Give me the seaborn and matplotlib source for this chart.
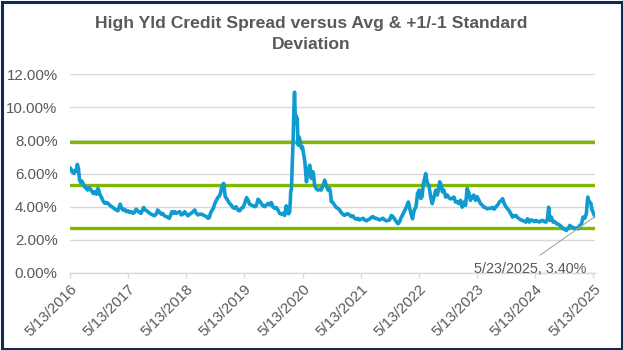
import matplotlib
matplotlib.use("Agg")
import matplotlib.pyplot as plt
from matplotlib.patches import Rectangle
from matplotlib.ticker import PercentFormatter
import pandas as pd
import seaborn as sns

# ---- data -------------------------------------------------------------
spread_dates = [
    "2016-05-13", "2016-05-20", "2016-05-27", "2016-06-07", "2016-06-14", "2016-06-22",
    "2016-06-28", "2016-07-05", "2016-07-12", "2016-07-19", "2016-07-26", "2016-08-03",
    "2016-08-12", "2016-08-23", "2016-09-01", "2016-09-08", "2016-09-15", "2016-09-26",
    "2016-10-05", "2016-10-14", "2016-10-26", "2016-11-04", "2016-11-11", "2016-11-18",
    "2016-11-26", "2016-12-06", "2016-12-18", "2016-12-28", "2017-01-07", "2017-01-17",
    "2017-01-28", "2017-02-08", "2017-02-18", "2017-03-01", "2017-03-10", "2017-03-17",
    "2017-03-24", "2017-04-01", "2017-04-10", "2017-04-20", "2017-05-01", "2017-05-12",
    "2017-05-22", "2017-06-01", "2017-06-12", "2017-06-22", "2017-07-02", "2017-07-12",
    "2017-07-24", "2017-08-02", "2017-08-11", "2017-08-19", "2017-08-28", "2017-09-07",
    "2017-09-14", "2017-09-25", "2017-10-05", "2017-10-16", "2017-10-25", "2017-11-05",
    "2017-11-15", "2017-11-24", "2017-12-06", "2017-12-15", "2017-12-27", "2018-01-08",
    "2018-01-18", "2018-01-27", "2018-02-06", "2018-02-12", "2018-02-22", "2018-03-02",
    "2018-03-12", "2018-03-22", "2018-04-02", "2018-04-12", "2018-04-22", "2018-05-03",
    "2018-05-14", "2018-05-24", "2018-06-04", "2018-06-14", "2018-06-25", "2018-07-05",
    "2018-07-15", "2018-07-26", "2018-08-06", "2018-08-16", "2018-08-27", "2018-09-06",
    "2018-09-17", "2018-09-27", "2018-10-05", "2018-10-12", "2018-10-20", "2018-10-30",
    "2018-11-07", "2018-11-16", "2018-11-28", "2018-12-07", "2018-12-14", "2018-12-19",
    "2018-12-26", "2019-01-03", "2019-01-08", "2019-01-13", "2019-01-21", "2019-01-30",
    "2019-02-09", "2019-02-20", "2019-03-01", "2019-03-12", "2019-03-22", "2019-04-02",
    "2019-04-13", "2019-04-24", "2019-05-05", "2019-05-15", "2019-05-27", "2019-06-05",
    "2019-06-15", "2019-06-25", "2019-07-06", "2019-07-17", "2019-07-27", "2019-08-07",
    "2019-08-16", "2019-08-27", "2019-09-07", "2019-09-18", "2019-09-28", "2019-10-09",
    "2019-10-20", "2019-10-29", "2019-11-08", "2019-11-19", "2019-11-29", "2019-12-10",
    "2019-12-20", "2019-12-31", "2020-01-10", "2020-01-21", "2020-01-31", "2020-02-07",
    "2020-02-14", "2020-02-21", "2020-02-26", "2020-02-28", "2020-03-04", "2020-03-09",
    "2020-03-12", "2020-03-16", "2020-03-19", "2020-03-23", "2020-03-27", "2020-04-01",
    "2020-04-06", "2020-04-09", "2020-04-13", "2020-04-16", "2020-04-21", "2020-04-26",
    "2020-05-01", "2020-05-06", "2020-05-12", "2020-05-17", "2020-05-22", "2020-05-27",
    "2020-06-02", "2020-06-06", "2020-06-11", "2020-06-16", "2020-06-21", "2020-06-26",
    "2020-07-01", "2020-07-06", "2020-07-11", "2020-07-17", "2020-07-22", "2020-07-27",
    "2020-08-05", "2020-08-16", "2020-08-26", "2020-09-07", "2020-09-18", "2020-09-23",
    "2020-09-28", "2020-10-03", "2020-10-08", "2020-10-19", "2020-10-29", "2020-11-04",
    "2020-11-09", "2020-11-19", "2020-11-29", "2020-12-10", "2020-12-20", "2020-12-31",
    "2021-01-10", "2021-01-20", "2021-01-31", "2021-02-10", "2021-02-21", "2021-03-03",
    "2021-03-14", "2021-03-24", "2021-04-04", "2021-04-15", "2021-04-25", "2021-05-05",
    "2021-05-16", "2021-05-27", "2021-06-07", "2021-06-17", "2021-06-27", "2021-07-07",
    "2021-07-18", "2021-07-28", "2021-08-08", "2021-08-18", "2021-08-28", "2021-09-08",
    "2021-09-19", "2021-09-29", "2021-10-10", "2021-10-20", "2021-10-31", "2021-11-10",
    "2021-11-21", "2021-12-01", "2021-12-12", "2021-12-22", "2022-01-02", "2022-01-12",
    "2022-01-23", "2022-02-02", "2022-02-13", "2022-02-23", "2022-03-08", "2022-03-16",
    "2022-03-24", "2022-04-03", "2022-04-13", "2022-04-24", "2022-04-29", "2022-05-04",
    "2022-05-15", "2022-05-25", "2022-06-02", "2022-06-10", "2022-06-18", "2022-06-25",
    "2022-07-05", "2022-07-15", "2022-07-26", "2022-08-05", "2022-08-16", "2022-08-27",
    "2022-09-06", "2022-09-14", "2022-09-21", "2022-09-30", "2022-10-07", "2022-10-17",
    "2022-10-28", "2022-11-07", "2022-11-17", "2022-11-28", "2022-12-08", "2022-12-19",
    "2022-12-29", "2023-01-09", "2023-01-19", "2023-01-29", "2023-02-09", "2023-02-19",
    "2023-03-02", "2023-03-12", "2023-03-23", "2023-04-02", "2023-04-13", "2023-04-23",
    "2023-05-04", "2023-05-14", "2023-05-25", "2023-06-04", "2023-06-14", "2023-06-25",
    "2023-07-05", "2023-07-16", "2023-07-26", "2023-08-06", "2023-08-18", "2023-08-29",
    "2023-09-09", "2023-09-20", "2023-09-30", "2023-10-10", "2023-10-21", "2023-10-31",
    "2023-11-10", "2023-11-21", "2023-12-01", "2023-12-12", "2023-12-22", "2024-01-02",
    "2024-01-12", "2024-01-22", "2024-02-02", "2024-02-12", "2024-02-23", "2024-03-04",
    "2024-03-15", "2024-03-25", "2024-04-05", "2024-04-16", "2024-04-26", "2024-05-07",
    "2024-05-17", "2024-05-28", "2024-06-07", "2024-06-18", "2024-06-28", "2024-07-09",
    "2024-07-19", "2024-07-29", "2024-08-05", "2024-08-12", "2024-08-22", "2024-09-02",
    "2024-09-12", "2024-09-23", "2024-10-04", "2024-10-14", "2024-10-25", "2024-11-04",
    "2024-11-15", "2024-11-25", "2024-12-06", "2024-12-16", "2024-12-26", "2025-01-06",
    "2025-01-16", "2025-01-27", "2025-02-06", "2025-02-16", "2025-02-27", "2025-03-09",
    "2025-03-20", "2025-03-30", "2025-04-04", "2025-04-08", "2025-04-14", "2025-04-20",
    "2025-04-28", "2025-05-03", "2025-05-08", "2025-05-13", "2025-05-18", "2025-05-23",
]

spread_pct = [
    6.35, 6.25, 6.10, 6.00, 6.20, 6.15,
    6.55, 6.30, 5.60, 5.45, 5.55, 5.40,
    5.20, 5.10, 5.00, 5.15, 5.10, 4.95,
    4.80, 4.90, 4.75, 5.10, 4.95, 4.70,
    4.58, 4.35, 4.20, 4.25, 4.20, 4.10,
    4.00, 3.95, 3.85, 3.80, 3.75, 3.95,
    4.15, 3.95, 3.80, 3.85, 3.70, 3.75,
    3.65, 3.70, 3.60, 3.65, 3.85, 3.75,
    3.65, 3.60, 3.80, 3.95, 3.80, 3.75,
    3.70, 3.60, 3.55, 3.50, 3.45, 3.55,
    3.80, 3.70, 3.55, 3.60, 3.45, 3.40,
    3.35, 3.30, 3.55, 3.70, 3.60, 3.70,
    3.60, 3.65, 3.70, 3.50, 3.55, 3.70,
    3.55, 3.45, 3.55, 3.60, 3.70, 3.80,
    3.60, 3.50, 3.55, 3.55, 3.50, 3.45,
    3.40, 3.30, 3.35, 3.60, 3.75, 3.90,
    4.15, 4.35, 4.55, 4.65, 4.80, 5.05,
    5.30, 5.40, 5.00, 4.60, 4.50, 4.35,
    4.20, 4.10, 3.95, 3.90, 4.00, 3.80,
    3.75, 3.90, 3.95, 4.20, 4.55, 4.40,
    4.15, 4.10, 4.05, 4.00, 4.05, 4.45,
    4.35, 4.20, 4.05, 4.00, 4.10, 4.20,
    4.10, 4.25, 4.00, 3.90, 3.95, 3.80,
    3.60, 3.55, 3.60, 3.47, 4.05, 3.75,
    3.57, 3.65, 4.40, 4.90, 5.10, 6.70,
    7.40, 8.60, 9.90, 10.90, 9.60, 9.50,
    9.00, 9.35, 8.00, 7.70, 8.20, 8.00,
    7.70, 7.50, 7.60, 7.30, 7.00, 6.70,
    6.00, 5.50, 5.90, 6.10, 6.30, 6.50,
    6.20, 5.70, 5.90, 6.10, 5.80, 5.30,
    5.10, 5.00, 5.05, 5.00, 5.30, 5.40,
    5.60, 5.45, 5.30, 5.00, 5.10, 4.80,
    4.30, 4.25, 4.10, 3.95, 3.90, 3.80,
    3.65, 3.55, 3.47, 3.55, 3.57, 3.50,
    3.40, 3.45, 3.30, 3.25, 3.30, 3.20,
    3.25, 3.30, 3.20, 3.15, 3.20, 3.25,
    3.35, 3.40, 3.30, 3.30, 3.25, 3.20,
    3.25, 3.30, 3.20, 3.15, 3.17, 3.20,
    3.47, 3.40, 3.25, 3.10, 2.97, 3.10,
    3.37, 3.55, 3.77, 3.97, 4.28, 3.90,
    3.60, 3.27, 3.77, 3.97, 4.30, 4.79,
    5.00, 4.50, 4.60, 5.40, 5.70, 6.00,
    5.40, 5.30, 4.58, 4.18, 4.58, 5.00,
    4.70, 5.10, 5.50, 5.30, 4.90, 5.00,
    4.58, 4.70, 4.55, 4.47, 4.50, 4.58,
    4.28, 4.30, 4.18, 4.38, 3.97, 4.28,
    4.08, 5.10, 4.80, 4.38, 4.58, 4.70,
    4.38, 4.60, 4.38, 4.18, 4.10, 3.97,
    3.95, 3.87, 3.90, 3.90, 3.95, 3.85,
    4.00, 4.10, 4.28, 4.35, 4.48, 4.18,
    4.00, 3.88, 3.75, 3.57, 3.37, 3.45,
    3.47, 3.35, 3.27, 3.20, 3.17, 3.12,
    3.07, 3.27, 3.07, 3.20, 3.17, 3.10,
    3.17, 3.12, 3.07, 3.15, 3.17, 3.10,
    3.07, 3.30, 3.97, 3.17, 3.37, 3.07,
    3.10, 2.97, 2.95, 2.87, 2.80, 2.67,
    2.62, 2.57, 2.70, 2.87, 2.77, 2.75,
    2.67, 2.70, 2.67, 2.87, 2.95, 3.37,
    3.30, 3.60, 4.20, 4.58, 4.30, 4.28,
    4.18, 3.80, 3.75, 3.60, 3.50, 3.40,
]

avg_spread = 5.30
std_spread = 2.59
band_levels = [avg_spread + std_spread, avg_spread, avg_spread - std_spread]

tick_dates = ["2016-05-13", "2017-05-13", "2018-05-13", "2019-05-13", "2020-05-13",
              "2021-05-13", "2022-05-13", "2023-05-13", "2024-05-13", "2025-05-13"]
y_ticks = [0, 2, 4, 6, 8, 10, 12]

title_text = "High Yld Credit Spread versus Avg & +1/-1 Standard\nDeviation"

# ---- styling ----------------------------------------------------------
sns.set_theme(style="white")
plt.rcParams["font.family"] = ["Liberation Sans", "DejaVu Sans"]

TEXT_GREY = "#595959"
GRID_GREY = "#D9D9D9"
LINE_BLUE = "#0F9AD0"
BAND_GREEN = "#7FBA00"
FRAME_NAVY = "#0F2B55"
TICK_SIZE = 10.8

df = pd.DataFrame({"date": pd.to_datetime(spread_dates), "spread": spread_pct})
ticks = pd.to_datetime(tick_dates)

W, H = 623, 350
fig = plt.figure(figsize=(W / 100, H / 100), dpi=100)
ax = fig.add_axes([70 / W, (H - 273) / H, 525 / W, (273 - 74) / H])

# horizontal grid
for yv in y_ticks:
    ax.axhline(yv, color=GRID_GREY, lw=1.0, zorder=0)

# average and +/-1 standard deviation bands
for lvl in band_levels:
    ax.axhline(lvl, color=BAND_GREEN, lw=2.4, zorder=2)

sns.lineplot(data=df, x="date", y="spread", ax=ax, color=LINE_BLUE,
             linewidth=2.6, zorder=3, legend=False)

ax.set_xlim(df["date"].iloc[0], df["date"].iloc[-1])
ax.set_ylim(0, 12)
ax.set_xlabel("")
ax.set_ylabel("")

ax.set_yticks(y_ticks)
ax.yaxis.set_major_formatter(PercentFormatter(decimals=2))
ax.set_xticks(ticks)
ax.set_xticklabels([f"{d.month}/{d.day}/{d.year}" for d in ticks])

for sp in ["top", "right", "left"]:
    ax.spines[sp].set_visible(False)
ax.spines["bottom"].set_color(GRID_GREY)
ax.spines["bottom"].set_linewidth(1.0)

ax.tick_params(axis="y", length=0, pad=9, labelsize=TICK_SIZE, labelcolor=TEXT_GREY)
ax.tick_params(axis="x", length=3.5, width=1.0, color=GRID_GREY, pad=3,
               labelsize=TICK_SIZE, labelcolor=TEXT_GREY, bottom=True)
for lab in ax.get_xticklabels():
    lab.set_rotation(45)
    lab.set_ha("right")
    lab.set_va("top")
    lab.set_rotation_mode("anchor")

# label for the latest observation
last_date = df["date"].iloc[-1]
last_val = df["spread"].iloc[-1]
ax.annotate(f"{last_date.month}/{last_date.day}/{last_date.year}, {last_val:.2f}%",
            xy=(last_date, last_val), xytext=(-47, -38), textcoords="offset points",
            ha="center", va="center", fontsize=10.4, color=TEXT_GREY,
            arrowprops=dict(arrowstyle="-", color="#A6A6A6", lw=0.8,
                            shrinkA=5, shrinkB=0, relpos=(0.5, 1.0)),
            annotation_clip=False, zorder=5)

fig.text(0.5, (H - 34) / H, title_text, ha="center", va="center",
         fontsize=12.6, fontweight="bold", color=TEXT_GREY, linespacing=1.5)

# outer frame
fig.patches.append(Rectangle((1.5 / W, 1.5 / H), 1 - 3 / W, 1 - 3 / H,
                             transform=fig.transFigure, fill=False,
                             edgecolor=FRAME_NAVY, linewidth=2.2, zorder=10))

fig.savefig("out.png", dpi=100, facecolor="white")
